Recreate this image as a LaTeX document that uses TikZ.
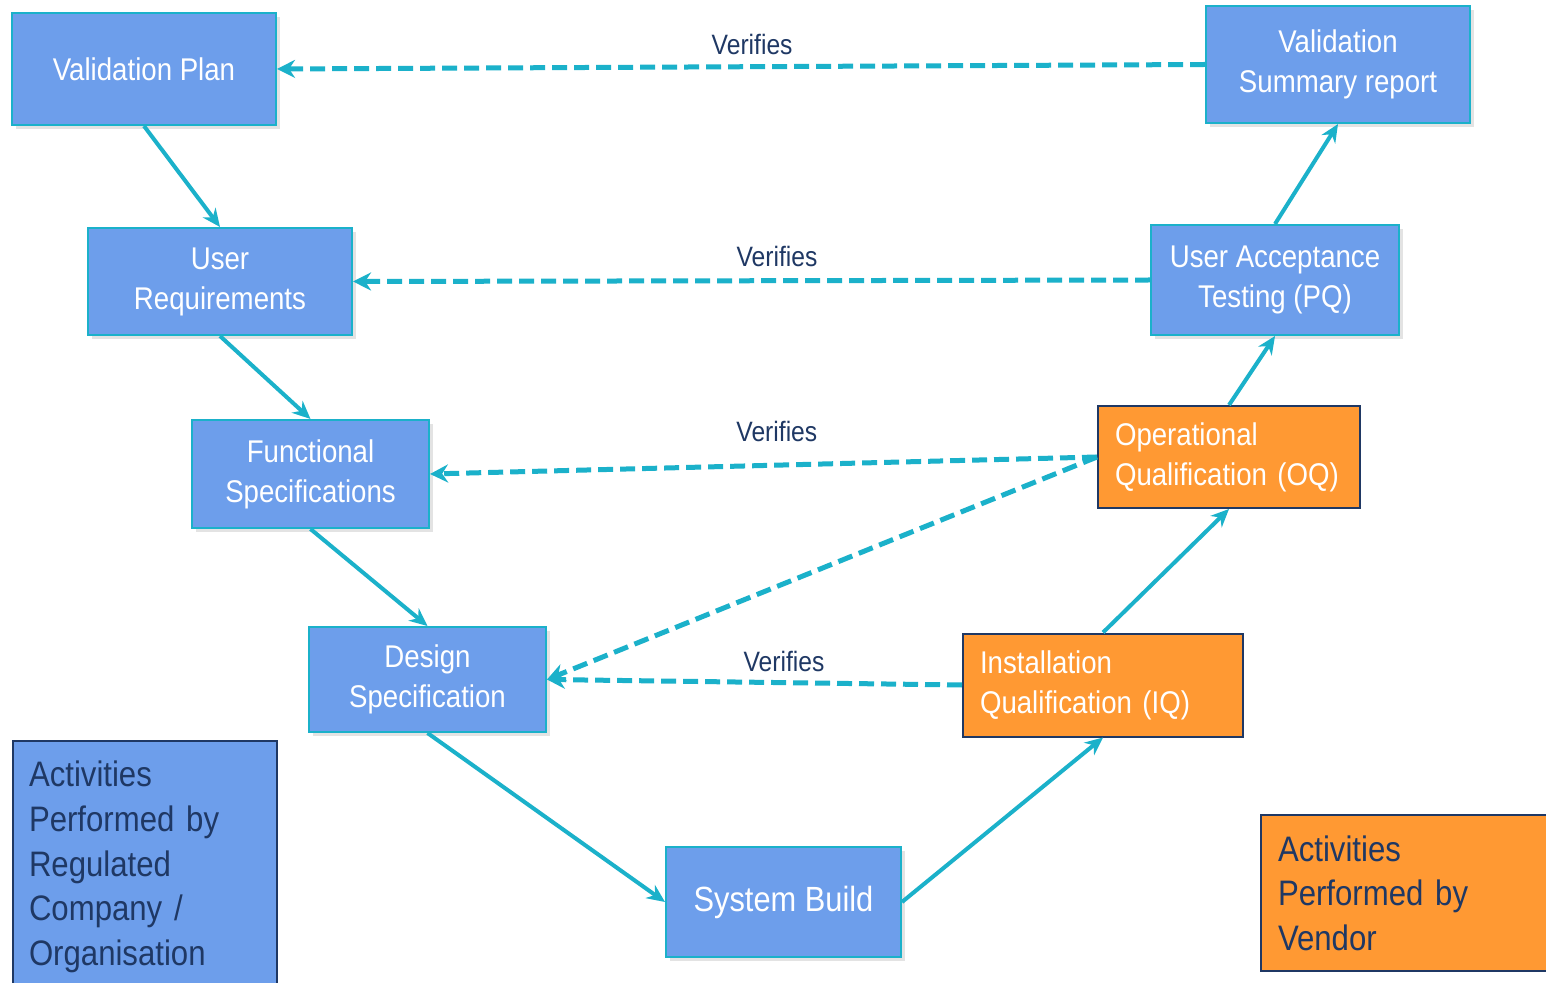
\documentclass[tikz,border=0pt]{standalone}
\usepackage{fontspec}
\setmainfont{Liberation Sans}[FakeStretch=0.88]
\usetikzlibrary{arrows.meta,shadows}
\definecolor{boxblue}{HTML}{6D9EEB}
\definecolor{tealc}{HTML}{1BB1CA}
\definecolor{orangec}{HTML}{FF9933}
\definecolor{navy}{HTML}{1F3864}
\begin{document}
\begin{tikzpicture}[x=0.5pt,y=-0.5pt,
 bluebox/.style={draw=tealc, line width=1pt, fill=boxblue, text=white, align=center,
   font=\fontsize{15.7}{20}\selectfont, inner sep=0pt,
   drop shadow={shadow xshift=2pt, shadow yshift=-2pt, opacity=0.22}},
 orangebox/.style={draw=navy, line width=1pt, fill=orangec, text=white, align=left,
   font=\fontsize{15.7}{20}\selectfont, inner xsep=8.5pt, inner ysep=0pt},
 legendbox/.style={draw=navy, line width=1pt, text=navy, align=left,
   font=\fontsize{17.7}{22.3}\selectfont, inner xsep=8pt, inner ysep=0pt, anchor=north west},
 flow/.style={draw=tealc, line width=2pt, -{Stealth[length=9pt,width=8pt]}},
 verify/.style={draw=tealc, line width=2.5pt, dash pattern=on 7.5pt off 3.5pt,
   -{Stealth[length=9pt,width=9pt]}},
 vlabel/.style={text=navy, font=\fontsize{14}{16}\selectfont, inner sep=2pt}
]
\fill[white] (0,0) rectangle (1546,983);
\useasboundingbox (0,0) rectangle (1546,983);

% boxes
\node[bluebox, minimum width=132pt, minimum height=56pt] (vp) at (144,69) {Validation Plan};
\node[bluebox, minimum width=132pt, minimum height=58.5pt] (vsr) at (1338,64.5) {Validation\\Summary report};
\node[bluebox, minimum width=132pt, minimum height=53.5pt] (ur) at (220,281.5) {User\\Requirements};
\node[bluebox, minimum width=124pt, minimum height=55pt] (uat) at (1275,280) {User Acceptance\\Testing (PQ)};
\node[bluebox, minimum width=118.5pt, minimum height=54pt] (fs) at (310.5,474) {Functional\\Specifications};
\node[orangebox, text width=114pt, minimum height=51pt] (oq) at (1229,457) {Operational\\Qualification (OQ)};
\node[bluebox, minimum width=118.5pt, minimum height=52.5pt] (ds) at (427.5,679.5) {Design\\Specification};
\node[orangebox, text width=123pt, minimum height=51.5pt] (iq) at (1103,685) {Installation\\Qualification (IQ)};
\node[bluebox, minimum width=117.5pt, minimum height=55pt, font=\fontsize{17.5}{21}\selectfont] (sb) at (783.5,902) {System Build};

% legends
\node[legendbox, fill=boxblue, text width=116pt, minimum height=126pt] (legc) at (12,740)
  {Activities\\Performed by\\Regulated\\Company /\\Organisation};
\node[legendbox, fill=orangec, text width=132pt, minimum height=78pt, inner xsep=8.5pt] (legv) at (1260,814)
  {Activities\\Performed by\\Vendor};

% V-flow
\draw[flow] (vp.south) -- (ur.north);
\draw[flow] (ur.south) -- (fs.north);
\draw[flow] (fs.south) -- (ds.north);
\draw[flow] (ds.south) -- (sb.west);
\draw[flow] (sb.east) -- (iq.south);
\draw[flow] (iq.north) -- (oq.south);
\draw[flow] (oq.north) -- (uat.south);
\draw[flow] (uat.north) -- (vsr.south);

% verification
\draw[verify] (vsr.west) -- node[vlabel, pos=0.488, above=2.5pt] (l1) {Verifies} (vp.east);
\draw[verify] (uat.west) -- node[vlabel, pos=0.468, above=3.5pt] (l2) {Verifies} (ur.east);
\draw[verify] (oq.west) -- node[vlabel, pos=0.48, above=8.5pt] (l3) {Verifies} (fs.east);
\draw[verify] (oq.west) -- (ds.east);
\draw[verify] (iq.west) -- node[vlabel, pos=0.429, above=2pt] (l4) {Verifies} (ds.east);
\end{tikzpicture}
\end{document}
